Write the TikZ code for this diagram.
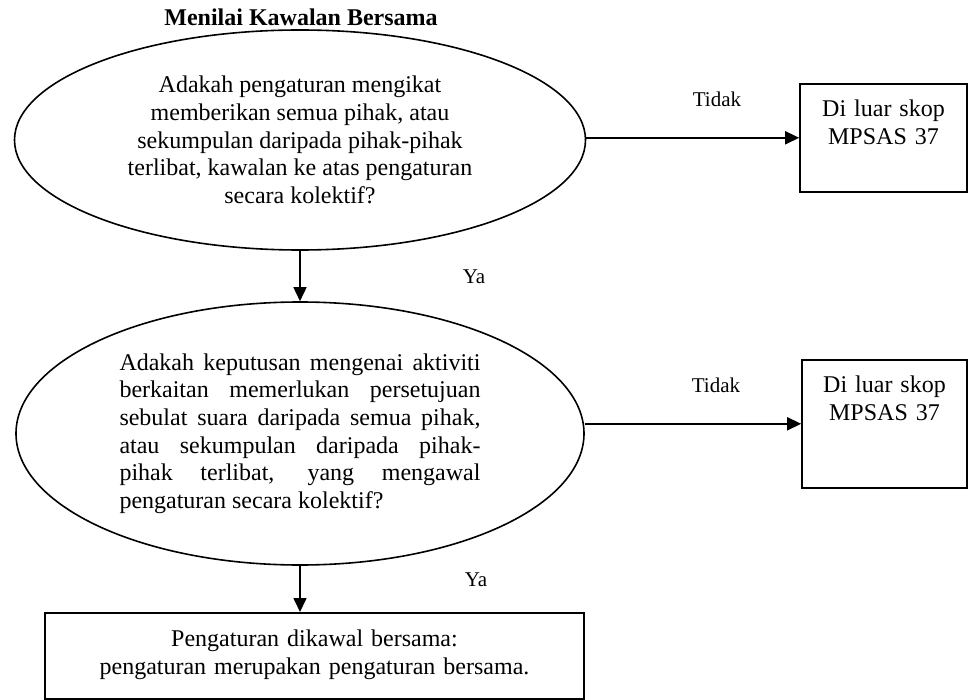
\documentclass[tikz,border=0pt]{standalone}
\usepackage{fontspec}
\setmainfont{Liberation Serif}
\usetikzlibrary{shapes.geometric,arrows.meta}

\begin{document}
\begin{tikzpicture}[x=0.5pt,y=-0.5pt,
  soal/.style={ellipse,draw,line width=0.8pt,inner sep=0pt,font=\fontsize{12}{13.8}\selectfont},
  kotak/.style={rectangle,draw,line width=0.8pt,anchor=north,inner sep=0pt,align=center,font=\fontsize{12}{13.8}\selectfont},
  jawab/.style={font=\fontsize{10.5}{12}\selectfont},
  panah/.style={-{Triangle[length=7pt,width=6.5pt]},line width=0.8pt}]
  \useasboundingbox (0,0) rectangle (968,700);
  % tajuk
  \node (tajuk) at (301,17) {\fontsize{12}{14}\selectfont\bfseries Menilai Kawalan Bersama};
  % soalan
  \node[soal,minimum width=285.5pt,minimum height=110pt,align=center] (s1) at (300,140)
    {Adakah pengaturan mengikat\\memberikan semua pihak, atau\\sekumpulan daripada pihak-pihak\\terlibat, kawalan ke atas pengaturan\\secara kolektif?};
  \node[soal,minimum width=284pt,minimum height=131.5pt,text width=180.5pt,align=justify] (s2) at (300,433.5)
    {Adakah keputusan mengenai aktiviti\linebreak berkaitan memerlukan persetujuan\linebreak sebulat suara daripada semua pihak,\linebreak atau sekumpulan daripada pihak-\linebreak pihak terlibat, yang mengawal\linebreak pengaturan secara kolektif?};
  % keputusan
  \node[kotak,minimum width=83.5pt,text width=75pt,text height=16.5pt,text depth=37.5pt] (b1) at (883.5,83)
    {Di luar skop\\MPSAS 37};
  \node[kotak,minimum width=82.5pt,text width=75pt,text height=16.3pt,text depth=47.7pt] (b2) at (884.5,359)
    {Di luar skop\\MPSAS 37};
  \node[kotak,minimum width=269.5pt,text width=250pt,text height=17pt,text depth=26pt] (b3) at (314.5,612)
    {Pengaturan dikawal bersama:\\pengaturan merupakan pengaturan bersama.};
  % anak panah
  \draw[panah] (s1.east |- b1.west) -- (b1.west);
  \draw[panah] (s2.east |- b2.west) -- (b2.west);
  \draw[panah] (s1.south) -- (s2.north);
  \draw[panah] (s2.south) -- (s2.south |- b3.north);
  \node[jawab] (t1) at (717,99) {Tidak};
  \node[jawab] (t2) at (716,385) {Tidak};
  \node[jawab] (y1) at (474,277) {Ya};
  \node[jawab] (y2) at (476,580) {Ya};
\end{tikzpicture}
\end{document}
